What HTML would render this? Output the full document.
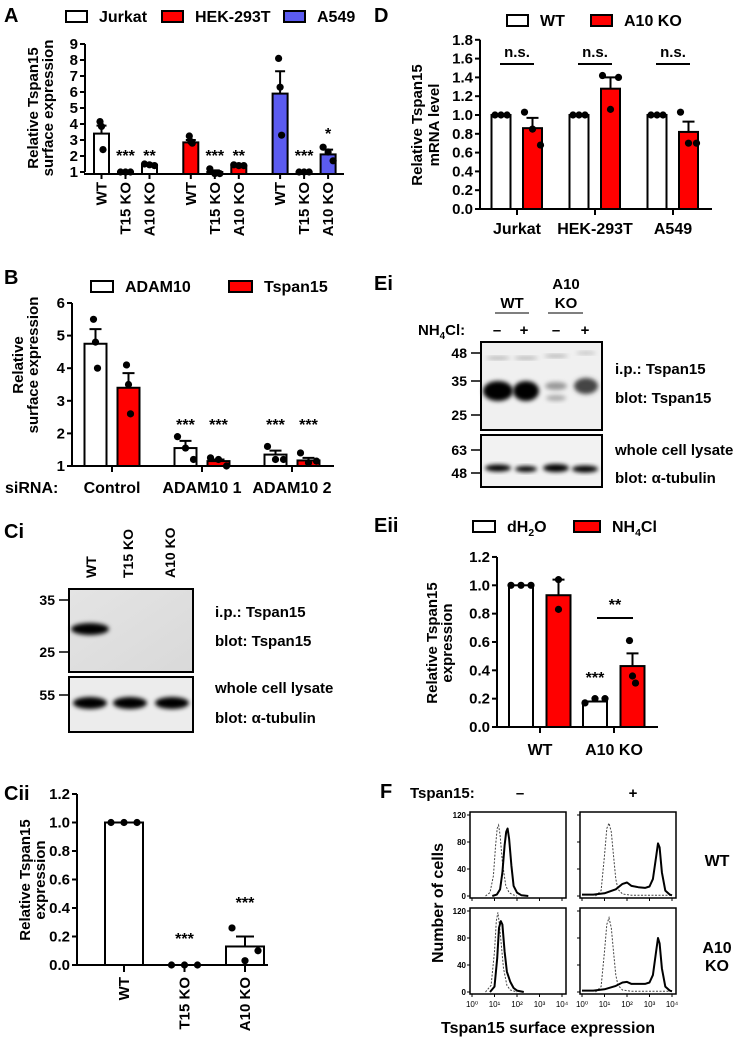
<!DOCTYPE html>
<html><head><meta charset="utf-8">
<style>
html,body{margin:0;padding:0;background:#fff;}
svg{display:block;font-family:"Liberation Sans",Arial,sans-serif;font-weight:bold;}
</style></head>
<body>
<svg id="fig" xmlns="http://www.w3.org/2000/svg" width="745" height="1041" viewBox="0 0 745 1041">
<defs>
<filter id="blur2" x="-50%" y="-50%" width="200%" height="200%"><feGaussianBlur stdDeviation="2.2"/></filter>
<filter id="blur4" x="-50%" y="-50%" width="200%" height="200%"><feGaussianBlur stdDeviation="4"/></filter>
<linearGradient id="bg1" x1="0" y1="0" x2="1" y2="1"><stop offset="0" stop-color="#e4e4e4"/><stop offset="1" stop-color="#d9d9d9"/></linearGradient>
</defs>
<g id="root"></g>
</svg>
<script>
// ===== Panel A data =====
const aGroups = ['Jurkat','HEK-293T','A549'];
const aBars = ['WT','T15 KO','A10 KO'];
const aMeans = [[3.4,1.0,1.45],[2.85,1.0,1.4],[5.9,1.0,2.1]];
const aSem = [[0.5,0.05,0.08],[0.15,0.1,0.06],[1.4,0.02,0.3]];
const aPts = [[[4.15,3.85,2.4],[1.0,1.0,1.0],[1.5,1.45,1.4]],[[3.25,2.9,2.8],[1.2,0.9,0.9],[1.45,1.4,1.4]],[[8.1,6.3,3.3],[1.0,1.0,1.0],[2.55,2.25,1.7]]];
const aStars = [['','***','**'],['','***','**'],['','***','*']];
const aTicks = [1,2,3,4,5,6,7,8,9];
// ===== Panel B data =====
const bGroups = ['Control','ADAM10 1','ADAM10 2'];
const bSeries = ['ADAM10','Tspan15'];
const bMeans = [[4.75,3.4],[1.55,1.15],[1.35,1.17]];
const bSem = [[0.45,0.45],[0.22,0.05],[0.12,0.08]];
const bPts = [[[5.5,4.8,4.0],[4.1,3.5,2.6]],[[1.9,1.55,1.2],[1.25,1.2,1.0]],[[1.6,1.2,1.2],[1.4,1.1,1.15]]];
const bStars = [['',''],['***','***'],['***','***']];
const bTicks = [1,2,3,4,5,6];
// ===== Panel Cii data =====
const cCats = ['WT','T15 KO','A10 KO'];
const cMeans = [1.0,0.0,0.13];
const cSem = [0,0,0.07];
const cPts = [[1,1,1],[0,0,0],[0.26,0.03,0.1]];
const cStars = ['','***','***'];
const cTicks = [0,0.2,0.4,0.6,0.8,1.0,1.2];
// ===== Panel D data =====
const dGroups = ['Jurkat','HEK-293T','A549'];
const dSeries = ['WT','A10 KO'];
const dMeans = [[1.0,0.86],[1.0,1.28],[1.0,0.82]];
const dSem = [[0,0.11],[0,0.12],[0,0.11]];
const dPts = [[[1,1,1],[1.03,0.85,0.68]],[[1,1,1],[1.42,1.06,1.40]],[[1,1,1],[1.03,0.70,0.70]]];
const dTicks = [0,0.2,0.4,0.6,0.8,1.0,1.2,1.4,1.6,1.8];
// ===== Panel Eii data =====
const eGroups = ['WT','A10 KO'];
const eSeries = ['dH2O','NH4Cl'];
const eMeans = [[1.0,0.93],[0.18,0.43]];
const eSem = [[0,0.11],[0.01,0.09]];
const ePts = [[[1,1,1],[1.04,0.83]],[[0.17,0.2,0.2],[0.61,0.36,0.31]]];
const eTicks = [0,0.2,0.4,0.6,0.8,1.0,1.2];
// ===== Panel F histogram data (log10 intensity, counts) =====
const fTLdx=[0.6,0.8,0.95,1.05,1.12,1.18,1.25,1.35,1.5,1.65,1.8,2.0];
const fTLdy=[0,5,30,75,100,105,90,50,15,5,2,0];
const fTLsx=[0.9,1.1,1.25,1.35,1.45,1.52,1.58,1.65,1.75,1.85,2.0,2.2,2.5];
const fTLsy=[0,2,10,35,75,95,100,85,45,15,5,1,0];
const fTRdx=[0.6,0.85,1.0,1.1,1.2,1.3,1.4,1.5,1.6,1.8,2.2,3,4];
const fTRdy=[0,8,60,100,108,95,60,25,10,3,1,1,1];
const fTRsx=[0,0.5,1,1.5,1.8,2.0,2.2,2.5,2.8,3.0,3.15,3.3,3.38,3.45,3.55,3.7,3.9,4.0];
const fTRsy=[2,2,4,10,18,20,15,13,12,14,25,60,78,72,35,8,2,1];
const fBLdx=[0.6,0.85,1.0,1.08,1.15,1.22,1.3,1.4,1.55,1.7,2.0];
const fBLdy=[0,10,60,105,118,100,70,35,10,3,0];
const fBLsx=[0.8,1.0,1.12,1.2,1.28,1.35,1.45,1.55,1.7,1.85,2.0,2.3];
const fBLsy=[0,8,50,95,105,100,60,30,15,6,2,0];
const fBRdx=[0.6,0.85,1.0,1.1,1.2,1.3,1.4,1.5,1.6,1.8,2.2,3,4];
const fBRdy=[0,8,60,100,110,95,60,25,10,3,1,1,1];
const fBRsx=[0,0.5,1,1.5,1.8,2.0,2.2,2.5,2.8,3.0,3.15,3.3,3.38,3.45,3.55,3.7,3.9,4.0];
const fBRsy=[2,2,4,9,14,15,12,12,12,14,25,62,80,72,35,8,2,1];
const fYTicks=[0,40,80,120];
const fXTicks=['10⁰','10¹','10²','10³','10⁴'];

const NS='http://www.w3.org/2000/svg';
const root=document.getElementById('root');
function mk(tag,attrs,parent){const e=document.createElementNS(NS,tag);for(const k in attrs)e.setAttribute(k,attrs[k]);(parent||root).appendChild(e);return e;}
function txt(s,x,y,size,anchor,parent,extra){const t=mk('text',Object.assign({x:x,y:y,'font-size':size,'text-anchor':anchor||'start',fill:'#000'},extra||{}),parent);t.textContent=s;return t;}
function subTxt(parts,x,y,size,parent){
  const t=mk('text',{x:x,y:y,'font-size':size,fill:'#000'},parent);
  parts.forEach(p=>{const s=mk('tspan',p[1]?{'font-size':size*0.65,dy:4}:{dy:p[2]||0},t);s.textContent=p[0];});
  return t;
}
const RED='#ff0000', BLUE='#5b5bf0';

function yAxis(g,x,yFn,ticks,fmt,size){
  const ax=mk('line',{x1:x,x2:x,y1:yFn(ticks[ticks.length-1]),y2:yFn(ticks[0]),stroke:'#000','stroke-width':2},g);
  
  
  ticks.forEach(v=>{
    const tk=mk('line',{x1:x-5,x2:x,y1:yFn(v),y2:yFn(v),stroke:'#000','stroke-width':2},g);
    
    
    const t=txt(fmt(v),x-7,yFn(v)+5,size,'end',g);
    
    
  });
}
function bar(g,cx,w,y0,y1,fill){
  const r=mk('rect',{x:cx-w/2,y:Math.min(y0,y1),width:w,height:Math.abs(y1-y0),fill:fill,stroke:'#000','stroke-width':2},g);
  
  
}
function errBar(g,cx,yTop,yMean,cap){
  const l=mk('path',{d:`M${cx},${yMean}V${yTop}M${cx-cap},${yTop}H${cx+cap}`,stroke:'#000','stroke-width':2,fill:'none'},g);
  
  
}
function dots(g,cx,vals,yFn,spread){
  vals.forEach((v,i)=>{
    const off=vals.length===1?0:(i-(vals.length-1)/2)*spread;
    const d=mk('circle',{cx:cx+off,cy:yFn(v),r:3.6,fill:'#000'},g);
    
    
  });
}
function legendBox(g,x,y,w,fill,label,size){
  const r=mk('rect',{x:x,y:y-6,width:w,height:11,fill:fill,stroke:'#000','stroke-width':2},g);
  
  
  if(label===null)return null;
  const t=txt(label,x+w+12,y+5,size,'start',g);
  
  
  return t;
}
function yTitle(g,lines,x0,dx,cy,size){
  lines.forEach((s,i)=>{
    const t=txt(s,0,0,size,'middle',g,{transform:`translate(${x0+i*dx},${cy}) rotate(-90)`});
    
    
  });
}
function panelLabel(s,x,y){
  const t=txt(s,x,y,20,'start');
  
  
}

// ===== Panel A =====
(function(){
  const g=mk('g',{});
  
  
  panelLabel('A',4,22);
  const y=v=>172-(v-1)*16;
  const xc=(gi,bi)=>101.5+gi*89.3+bi*24;
  const fills=['#fff',RED,BLUE];
  legendBox(g,66,17,21,'#fff',aGroups[0],16);
  legendBox(g,162,17,21,RED,aGroups[1],16);
  legendBox(g,284,17,21,BLUE,aGroups[2],16);
  aMeans.forEach((gm,gi)=>gm.forEach((m,bi)=>{
    const cx=xc(gi,bi);
    bar(g,cx,15,y(m),174,fills[gi]);
    if(aSem[gi][bi]>0.03)errBar(g,cx,y(m+aSem[gi][bi]),y(m),5);
    dots(g,cx,aPts[gi][bi],y,bi===0?1.5:5);
    if(aStars[gi][bi]){const t=txt(aStars[gi][bi],cx,aStars[gi][bi]==='*'?139:161,16,'middle',g);}
    const tk=mk('line',{x1:cx,x2:cx,y1:174,y2:179,stroke:'#000','stroke-width':2},g);
    
    
    const t=txt(aBars[bi],0,0,15,'end',g,{transform:`translate(${cx+5},${182}) rotate(-90)`});
    
    
  }));
  yAxis(g,85,y,aTicks,v=>String(v),15);
  const xa=mk('line',{x1:84,x2:344,y1:174,y2:174,stroke:'#000','stroke-width':2},g);
  
  
  yTitle(g,['Relative Tspan15','surface expression'],38,15,108,15);
})();

// ===== Panel B =====
(function(){
  const g=mk('g',{});
  
  
  panelLabel('B',4,284);
  const y=v=>466-(v-1)*32.6;
  const gc=gi=>112+gi*90;
  const xc=(gi,bi)=>gc(gi)-16.5+bi*33;
  const fills=['#fff',RED];
  legendBox(g,91,287,22,'#fff',bSeries[0],16);
  legendBox(g,229,287,23,RED,bSeries[1],16);
  bMeans.forEach((gm,gi)=>{
    gm.forEach((m,bi)=>{
      const cx=xc(gi,bi);
      bar(g,cx,22,y(m),466,fills[bi]);
      errBar(g,cx,y(m+bSem[gi][bi]),y(m),6);
      dots(g,cx,bPts[gi][bi],y,gi===0?2:8);
      if(bStars[gi][bi]){const t=txt(bStars[gi][bi],cx,430,16,'middle',g);}
    });
    const tk=mk('line',{x1:gc(gi),x2:gc(gi),y1:466,y2:472,stroke:'#000','stroke-width':2},g);
    
    
    const t=txt(bGroups[gi],gc(gi),493,16,'middle',g);
    
    
  });
  yAxis(g,72,y,bTicks,v=>String(v),15);
  const xa=mk('line',{x1:71,x2:334,y1:466,y2:466,stroke:'#000','stroke-width':2},g);
  
  
  const s=txt('siRNA:',5,493,16,'start',g);
  
  
  yTitle(g,['Relative','surface expression'],23,15,365,15);
})();

// ===== Panel Ci blot =====
(function(){
  const g=mk('g',{});
  
  
  panelLabel('Ci',4,538);
  const lanes=['WT','T15 KO','A10 KO'];
  const lx=[91,128,170];
  lanes.forEach((s,i)=>{const t=txt(s,0,0,14,'start',g,{transform:`translate(${lx[i]+5},578) rotate(-90)`});});
  const b1=mk('rect',{x:69,y:589,width:124,height:83,fill:'url(#bg1)',stroke:'#000','stroke-width':2},g);
  
  
  const band=mk('ellipse',{cx:90,cy:629,rx:19,ry:6,fill:'#000',filter:'url(#blur2)'},g);
  
  
  const b2=mk('rect',{x:69,y:677,width:124,height:55,fill:'#ececec',stroke:'#000','stroke-width':2},g);
  
  
  [90,130,172].forEach(cx=>{const e=mk('ellipse',{cx:cx,cy:703,rx:17,ry:6,fill:'#000',filter:'url(#blur2)'},g);});
  [['35',600],['25',652],['55',695]].forEach(m=>{txt(m[0],55,m[1]+5,14,'end',g);const l=mk('line',{x1:59,x2:68,y1:m[1],y2:m[1],stroke:'#000','stroke-width':1.5},g);});
  [['i.p.: Tspan15',617],['blot: Tspan15',646],['whole cell lysate',693],['blot: α-tubulin',723]].forEach(m=>{const t=txt(m[0],215,m[1],15,'start',g);});
})();

// ===== Panel Cii =====
(function(){
  const g=mk('g',{});
  
  
  panelLabel('Cii',4,800);
  const y=v=>965-v*142.5;
  const xc=i=>124+i*60.5;
  cMeans.forEach((m,i)=>{
    const cx=xc(i);
    if(m>0.005)bar(g,cx,38,y(m),965,'#fff');
    if(cSem[i]>0)errBar(g,cx,y(m+cSem[i]),y(m),9);
    dots(g,cx,cPts[i],y,13);
    if(cStars[i]){const t=txt(cStars[i],cx,i===1?944:908,16,'middle',g);}
    const tk=mk('line',{x1:cx,x2:cx,y1:965,y2:972,stroke:'#000','stroke-width':2},g);
    
    
    const t=txt(cCats[i],0,0,15,'end',g,{transform:`translate(${cx+5},977) rotate(-90)`});
    
    
  });
  yAxis(g,77,y,cTicks,v=>v.toFixed(1),15);
  const xa=mk('line',{x1:76,x2:268,y1:965,y2:965,stroke:'#000','stroke-width':2},g);
  
  
  yTitle(g,['Relative Tspan15','expression'],30,15,880,15);
})();

// ===== Panel D =====
(function(){
  const g=mk('g',{});
  
  
  panelLabel('D',374,22);
  const y=v=>209-v*94;
  const gc=gi=>517+gi*78;
  const xc=(gi,bi)=>gc(gi)-16+bi*31.5;
  const fills=['#fff',RED];
  legendBox(g,507,21,21,'#fff',dSeries[0],16);
  legendBox(g,591,21,21,RED,dSeries[1],16);
  dMeans.forEach((gm,gi)=>{
    gm.forEach((m,bi)=>{
      const cx=xc(gi,bi);
      bar(g,cx,19,y(m),209,fills[bi]);
      if(dSem[gi][bi]>0)errBar(g,cx,y(m+dSem[gi][bi]),y(m),6);
      dots(g,cx,dPts[gi][bi],y,bi===0?6:8);
    });
    const l=mk('line',{x1:gc(gi)-17,x2:gc(gi)+17,y1:64,y2:64,stroke:'#000','stroke-width':2},g);
    
    
    const ns=txt('n.s.',gc(gi),57,15,'middle',g);
    
    
    const tk=mk('line',{x1:gc(gi),x2:gc(gi),y1:209,y2:215,stroke:'#000','stroke-width':2},g);
    
    
    const t=txt(dGroups[gi],gc(gi),234,16,'middle',g);
    
    
  });
  yAxis(g,480,y,dTicks,v=>v.toFixed(1),15);
  const xa=mk('line',{x1:479,x2:712,y1:209,y2:209,stroke:'#000','stroke-width':2},g);
  
  
  yTitle(g,['Relative Tspan15','mRNA level'],422,17,125,15);
})();

// ===== Panel Ei blot =====
(function(){
  const g=mk('g',{});
  
  
  panelLabel('Ei',374,290);
  const t1=txt('WT',512,308,15,'middle',g);
  const t2=txt('A10',566,289,15,'middle',g);
  txt('KO',566,308,15,'middle',g);
  mk('line',{x1:495,x2:529,y1:313,y2:313,stroke:'#555','stroke-width':1.5},g);
  mk('line',{x1:548,x2:583,y1:313,y2:313,stroke:'#555','stroke-width':1.5},g);
  const nh=subTxt([['NH',false],['4',true],['Cl:',false,-4]],418,335,15,g);
  
  
  [['–',497],['+',524],['–',556],['+',585]].forEach(p=>txt(p[0],p[1],335,15,'middle',g));
  const b1=mk('rect',{x:481,y:342,width:121,height:88,fill:'#f0f0f0',stroke:'#000','stroke-width':2},g);
  
  
  [[498,391,15,10,'#000'],[526,391,13,10,'#000'],[556,386,11,4,'#999'],[556,398,10,3,'#aaa'],[586,386,12,8,'#444'],[498,358,12,1.5,'#aaa'],[526,358,12,1.5,'#aaa'],[556,356,12,1.5,'#aaa'],[586,353,10,1.5,'#bbb']].forEach(b=>{
    const e=mk('ellipse',{cx:b[0],cy:b[1],rx:b[2],ry:b[3],fill:b[4],filter:'url(#blur2)'},g);
    
    
  });
  const b2=mk('rect',{x:481,y:435,width:121,height:52,fill:'#f2f2f2',stroke:'#000','stroke-width':2},g);
  
  
  [[498,468,13,3.5],[526,469,11,3],[556,468,13,4],[585,469,13,3.5]].forEach(b=>{
    const e=mk('ellipse',{cx:b[0],cy:b[1],rx:b[2],ry:b[3],fill:'#000',filter:'url(#blur2)'},g);
    
    
  });
  [['48',353],['35',381],['25',415],['63',450],['48',473]].forEach(m=>{txt(m[0],467,m[1]+5,14,'end',g);mk('line',{x1:471,x2:480,y1:m[1],y2:m[1],stroke:'#000','stroke-width':1.5},g);});
  [['i.p.: Tspan15',374],['blot: Tspan15',403],['whole cell lysate',455],['blot: α-tubulin',483]].forEach(m=>{const t=txt(m[0],615,m[1],15,'start',g);});
})();

// ===== Panel Eii =====
(function(){
  const g=mk('g',{});
  
  
  panelLabel('Eii',374,532);
  const y=v=>727-v*141.7;
  const gc=gi=>540+gi*74;
  const xc=(gi,bi)=>gc(gi)-19+bi*37.5;
  const fills=['#fff',RED];
  legendBox(g,473,527,22,'#fff',null,16);
  const l1=subTxt([['dH',false],['2',true],['O',false,-4]],507,532,16,g);
  
  
  legendBox(g,574,527,26,RED,null,16);
  const l2=subTxt([['NH',false],['4',true],['Cl',false,-4]],612,532,16,g);
  
  
  eMeans.forEach((gm,gi)=>{
    gm.forEach((m,bi)=>{
      const cx=xc(gi,bi);
      bar(g,cx,24,y(m),727,fills[bi]);
      if(eSem[gi][bi]>0.02)errBar(g,cx,y(m+eSem[gi][bi]),y(m),6);
      dots(g,cx,ePts[gi][bi],y,ePts[gi][bi].length===2?0:(gi===1&&bi===1?3:10));
    });
    const tk=mk('line',{x1:gc(gi),x2:gc(gi),y1:727,y2:733,stroke:'#000','stroke-width':2},g);
    
    
    const t=txt(eGroups[gi],gc(gi),755,16,'middle',g);
    
    
  });
  const s3=txt('***',xc(1,0),683,16,'middle',g);
  const cl=mk('line',{x1:597,x2:633,y1:618,y2:618,stroke:'#000','stroke-width':2},g);
  
  
  const s2=txt('**',615,610,16,'middle',g);
  yAxis(g,497,y,eTicks,v=>v.toFixed(1),15);
  const xa=mk('line',{x1:496,x2:658,y1:727,y2:727,stroke:'#000','stroke-width':2},g);
  
  
  yTitle(g,['Relative Tspan15','expression'],437,15,643,15);
})();

// ===== Panel F =====
(function(){
  const g=mk('g',{});
  
  
  panelLabel('F',380,798);
  const t=txt('Tspan15:',410,798,15,'start',g);
  txt('–',520,798,15,'middle',g);txt('+',633,798,15,'middle',g);
  const panels=[
    {L:470,T:812,dx:fTLdx,dy:fTLdy,sx:fTLsx,sy:fTLsy,n:'hist-wt-minus'},
    {L:580,T:812,dx:fTRdx,dy:fTRdy,sx:fTRsx,sy:fTRsy,n:'hist-wt-plus'},
    {L:470,T:908,dx:fBLdx,dy:fBLdy,sx:fBLsx,sy:fBLsy,n:'hist-ko-minus'},
    {L:580,T:908,dx:fBRdx,dy:fBRdy,sx:fBRsx,sy:fBRsy,n:'hist-ko-plus'}];
  panels.forEach((p,pi)=>{
    const W=96,H=86,B=p.T+H;
    const r=mk('rect',{x:p.L,y:p.T,width:W,height:H,fill:'#fff',stroke:'#000','stroke-width':1.5},g);
    
    
    const xs=lv=>p.L+2+lv/4*(W-6);
    const ys=c=>B-2-c*0.675;
    const dPath=p.dx.map((v,i)=>(i?'L':'M')+xs(v).toFixed(1)+','+ys(p.dy[i]).toFixed(1)).join('');
    const sPath=p.sx.map((v,i)=>(i?'L':'M')+xs(v).toFixed(1)+','+ys(p.sy[i]).toFixed(1)).join('');
    const dl=mk('path',{d:dPath,fill:'none',stroke:'#444','stroke-width':1,'stroke-dasharray':'2,1.5'},g);
    
    
    const sl=mk('path',{d:sPath,fill:'none',stroke:'#000','stroke-width':2,'stroke-linejoin':'round'},g);
    
    
    fYTicks.forEach(v=>{
      mk('line',{x1:p.L-3,x2:p.L,y1:ys(v),y2:ys(v),stroke:'#000','stroke-width':1},g);
      if(pi%2===0){const tl=txt(String(v),p.L-4,ys(v)+3,8,'end',g);}
    });
    fXTicks.forEach((s,i)=>{
      mk('line',{x1:xs(i),x2:xs(i),y1:B,y2:B+3,stroke:'#000','stroke-width':1},g);
      if(pi>=2){const tl=txt(s,xs(i),B+13,8,'middle',g,{'font-weight':'normal'});}
    });
  });
  yTitle(g,['Number of cells'],443,0,903,16);
  const xt=txt('Tspan15 surface expression',548,1033,16,'middle',g);
  
  
  const w=txt('WT',717,866,16,'middle',g);
  const k1=txt('A10',717,953,16,'middle',g);
  txt('KO',717,971,16,'middle',g);
})();
</script>
</body></html>
